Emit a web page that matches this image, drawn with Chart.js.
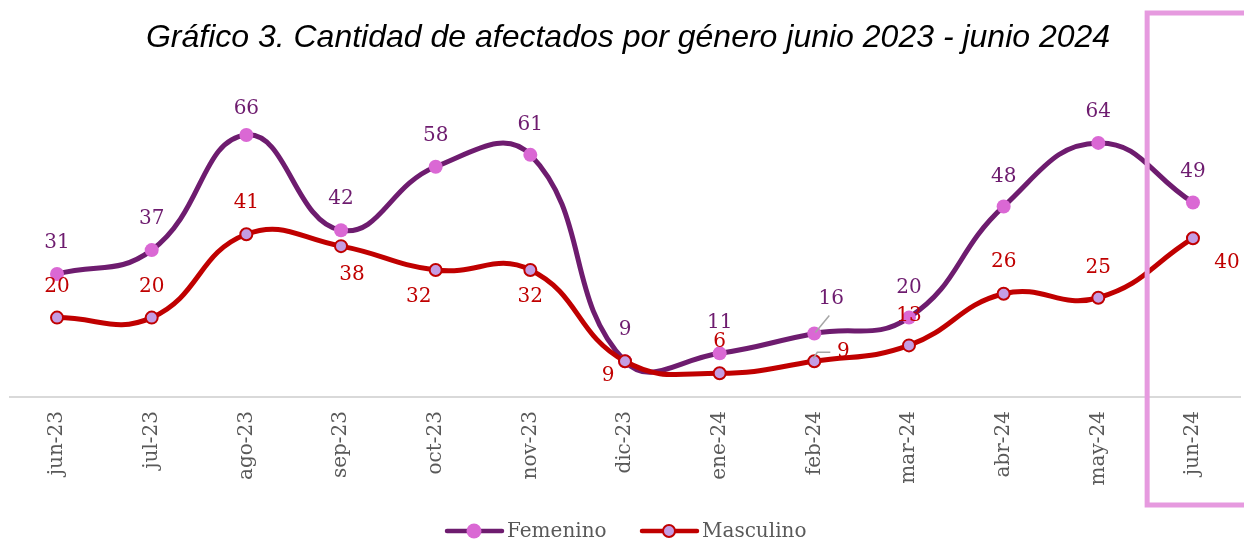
<!DOCTYPE html>
<html><head><meta charset="utf-8">
<script src="https://cdn.jsdelivr.net/npm/chart.js@4.4.1/dist/chart.umd.min.js"></script>
<style>html,body{margin:0;padding:0;background:#fff}canvas{display:block}</style>
</head><body>
<canvas id="c" width="1244" height="539"></canvas>
<script>
// ---- data ----
const categories = ['jun-23','jul-23','ago-23','sep-23','oct-23','nov-23','dic-23','ene-24','feb-24','mar-24','abr-24','may-24','jun-24'];
const femenino  = [31,37,66,42,58,61,9,11,16,20,48,64,49];
const masculino = [20,20,41,38,32,32,9,6,9,13,26,25,40];
const seriesNames = ['Femenino','Masculino'];
const titleText = 'Gráfico 3. Cantidad de afectados por género junio 2023 - junio 2024';

// ---- styles ----
const FEM_LINE = '#6E1C6F', FEM_POINT = '#DA68D4', FEM_TEXT = '#6E1C6F';
const MAS_LINE = '#C00000', MAS_POINT = '#C49DE3', MAS_TEXT = '#C00000';
const LABEL_FONT = '20px "DejaVu Serif"';
// label offsets (dx, dy) relative to the point
const femOffsets  = [[0,-31],[0,-31],[0,-26],[0,-31],[0,-31],[0,-30],[0,-31],[0,-31],[17,-35],[0,-30],[0,-30],[0,-31],[0,-31]];
const masOffsets  = [[0,-31],[0,-31],[0,-31],[11,29],[-17,27],[0,27],[-17,15],[0,-31],[29,-9],[0,-30],[0,-32],[0,-30],[34,25]];

const labelPlugin = {
  id: 'labels',
  afterDatasetsDraw(chart) {
    const ctx = chart.ctx;
    ctx.save();
    // leader lines
    const mf = chart.getDatasetMeta(0), mm = chart.getDatasetMeta(1);
    ctx.strokeStyle = '#A6A6A6'; ctx.lineWidth = 1.5;
    const pf = mf.data[8], pm = mm.data[8];
    ctx.beginPath(); ctx.moveTo(pf.x+1, pf.y-1); ctx.lineTo(pf.x+15, pf.y-18); ctx.stroke();
    ctx.beginPath(); ctx.moveTo(pm.x-1, pm.y-3); ctx.lineTo(pm.x+3, pm.y-9); ctx.lineTo(pm.x+16, pm.y-9); ctx.stroke();
    ctx.font = LABEL_FONT; ctx.textAlign = 'center'; ctx.textBaseline = 'middle';
    [[0, femenino, femOffsets, FEM_TEXT],[1, masculino, masOffsets, MAS_TEXT]].forEach(([i, vals, offs, col]) => {
      const meta = chart.getDatasetMeta(i);
      ctx.fillStyle = col;
      meta.data.forEach((p, j) => {
        ctx.fillText(String(vals[j]), p.x + offs[j][0], p.y + offs[j][1]);
      });
    });
    ctx.restore();
  },
  afterDraw(chart) {
    const ctx = chart.ctx;
    const x = chart.scales.x;
    ctx.save();
    // title
    ctx.font = 'italic 32px "Liberation Sans", Arial, sans-serif';
    ctx.fillStyle = '#000'; ctx.textAlign = 'center'; ctx.textBaseline = 'alphabetic';
    ctx.fillText(titleText, 628, 47);
    // highlight frame around last category
    const left = (x.getPixelForValue(11) + x.getPixelForValue(12)) / 2 + 1.5;
    ctx.strokeStyle = '#E69ADF'; ctx.lineWidth = 5;
    ctx.beginPath();
    ctx.moveTo(1260, 13); ctx.lineTo(left, 13); ctx.lineTo(left, 505); ctx.lineTo(1260, 505);
    ctx.stroke();
    // legend
    const items = [
      {name: seriesNames[0], x0: 447, line: FEM_LINE, fill: FEM_POINT, border: FEM_POINT, bw: 0},
      {name: seriesNames[1], x0: 642, line: MAS_LINE, fill: MAS_POINT, border: MAS_LINE, bw: 2}
    ];
    const ly = 531;
    items.forEach(it => {
      ctx.strokeStyle = it.line; ctx.lineWidth = 4.5; ctx.lineCap = 'round';
      ctx.beginPath(); ctx.moveTo(it.x0, ly); ctx.lineTo(it.x0 + 55, ly); ctx.stroke();
      ctx.beginPath(); ctx.arc(it.x0 + 27, ly, it.bw ? 6 : 7.5, 0, Math.PI*2);
      ctx.fillStyle = it.fill; ctx.fill();
      if (it.bw) { ctx.lineWidth = it.bw; ctx.strokeStyle = it.border; ctx.stroke(); }
      ctx.font = '20px "DejaVu Serif"'; ctx.fillStyle = '#595959';
      ctx.textAlign = 'left'; ctx.textBaseline = 'alphabetic';
      ctx.fillText(it.name, it.x0 + 60, 537);
    });
    ctx.restore();
  }
};

new Chart(document.getElementById('c'), {
  type: 'line',
  data: {
    labels: categories,
    datasets: [
      { label: seriesNames[0], data: femenino, borderColor: FEM_LINE, borderWidth: 5,
        pointBackgroundColor: FEM_POINT, pointBorderColor: FEM_POINT, pointBorderWidth: 0,
        pointRadius: 7, tension: 0.45, order: 1, clip: false },
      { label: seriesNames[1], data: masculino, borderColor: MAS_LINE, borderWidth: 5,
        pointBackgroundColor: MAS_POINT, pointBorderColor: MAS_LINE, pointBorderWidth: 2,
        pointRadius: 6, tension: 0.45, order: 0, clip: false }
    ]
  },
  options: {
    responsive: false, animation: false, devicePixelRatio: 1,
    layout: { autoPadding: false, padding: { top: 79.4, left: 9.7, right: 3.7, bottom: 42 } },
    plugins: { legend: { display: false }, title: { display: false }, tooltip: { enabled: false } },
    scales: {
      x: {
        offset: true,
        grid: { display: false, drawTicks: false },
        border: { display: true, color: '#D9D9D9', width: 2 },
        ticks: { minRotation: 90, maxRotation: 90, padding: 14, color: '#595959',
                 font: { family: 'DejaVu Serif', size: 20 }, autoSkip: false },
        afterFit(s) { s.height = 100; s.paddingRight = 0; s.paddingLeft = 0; }
      },
      y: { display: false, min: 0, max: 80 }
    }
  },
  plugins: [labelPlugin]
});
</script>
</body></html>
